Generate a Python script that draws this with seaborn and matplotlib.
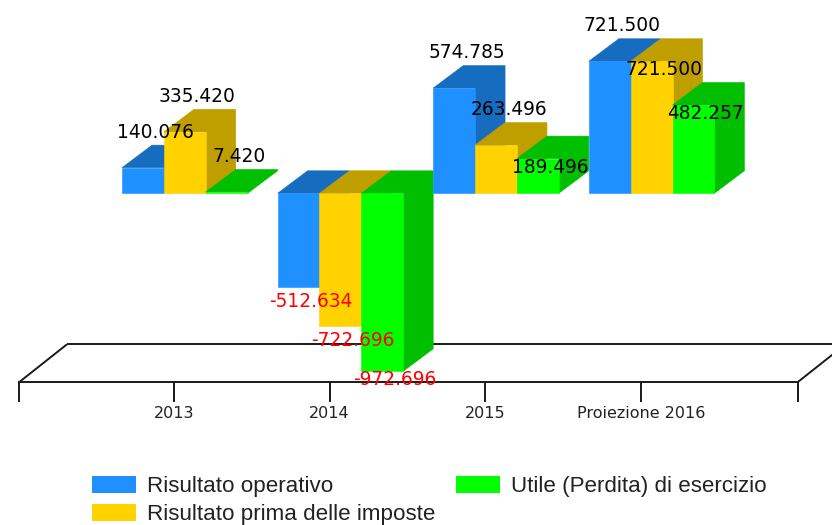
import matplotlib

matplotlib.use("Agg")
import matplotlib.pyplot as plt
import pandas as pd
import seaborn as sns
from matplotlib.colors import to_rgb
from matplotlib.patches import Polygon

years = ["2013", "2014", "2015", "Proiezione 2016"]
operativo = [140.076, -512.634, 574.785, 721.5]
ante_imposte = [335.42, -722.696, 263.496, 721.5]
utile = [7.42, -972.696, 189.496, 482.257]

series = ["Risultato operativo", "Risultato prima delle imposte", "Utile (Perdita) di esercizio"]
colors = ["#1e90ff", "#ffd200", "#00ff00"]
# labels the original prints inside the bar instead of above it
lowered = {(2, 2), (3, 1), (3, 2)}

DPI = 100
W, H = 832, 525
PX_PER_CAT = 155.6
PX_PER_VAL = 0.183
ZERO_X = 184.8
ZERO_Y = 193.3


def main():
    sns.set_theme(style="white")
    df = pd.DataFrame({"anno": years, series[0]: operativo, series[1]: ante_imposte, series[2]: utile})
    df = df.melt(id_vars="anno", var_name="voce", value_name="valore")

    fig = plt.figure(figsize=(W / DPI, H / DPI), dpi=DPI)
    ax = fig.add_axes([0, 0, 1, 1])
    sns.barplot(
        df,
        x="anno",
        y="valore",
        hue="voce",
        order=years,
        hue_order=series,
        palette=dict(zip(series, colors)),
        saturation=1,
        width=0.807,
        linewidth=0,
        errorbar=None,
        ax=ax,
    )
    ax.set_xlim(-ZERO_X / PX_PER_CAT, (W - ZERO_X) / PX_PER_CAT)
    ax.set_ylim((ZERO_Y - H) / PX_PER_VAL, ZERO_Y / PX_PER_VAL)
    ax.set(xlabel=None, ylabel=None)

    # fake 3d: side and top face as one outline, painted left to right
    dx = 30 / PX_PER_CAT
    dy = 22.5 / PX_PER_VAL
    # seaborn leaves empty zero-size patches around, skip those
    bars = sorted((p for p in ax.patches if p.get_width() > 0), key=lambda p: p.get_x())
    for z, bar in enumerate(bars):
        x0, x1 = bar.get_x(), bar.get_x() + bar.get_width()
        y0 = min(bar.get_y(), bar.get_y() + bar.get_height())
        y1 = max(bar.get_y(), bar.get_y() + bar.get_height())
        color = bar.get_facecolor()
        dark = [c * 0.75 for c in to_rgb(color)]
        outline = [(x0, y1), (x0 + dx, y1 + dy), (x1 + dx, y1 + dy), (x1 + dx, y0 + dy), (x1, y0), (x1, y1)]
        ax.add_patch(Polygon(outline, closed=True, fc=dark, ec=dark, lw=0.4, zorder=3 + z * 0.01))
        bar.set_edgecolor(color)
        bar.set_linewidth(0.4)
        bar.set_zorder(3 + z * 0.01 + 0.001)

    # value labels
    for i, group in enumerate(zip(operativo, ante_imposte, utile)):
        for j, val in enumerate(group):
            bar_x = i - 0.807 / 2 + 0.807 / 3 * (j + 0.5)
            if val < 0:
                off, col = -20, "#ff0000"
                if val < -900:
                    off = -14
            elif (i, j) in lowered:
                off, col = -14, "black"
            else:
                off, col = 30, "black"
            ax.annotate(
                f"{val:.3f}",
                (bar_x, val),
                xytext=(12.5, off),
                textcoords="offset pixels",
                ha="center",
                va="baseline",
                fontsize=13.4,
                color=col,
                zorder=10,
            )

    # floor of the 3d box, bottom spine is its front edge
    floor = (ZERO_Y - 382.3) / PX_PER_VAL
    left = (19 - ZERO_X) / PX_PER_CAT
    right = (797.5 - ZERO_X) / PX_PER_CAT
    fdx = 48 / PX_PER_CAT
    fdy = 38 / PX_PER_VAL
    line = {"color": "#1a1a1a", "lw": 1.4, "zorder": 1, "solid_capstyle": "butt"}
    ax.plot([left, left + fdx], [floor, floor + fdy], **line)
    ax.plot([right, right + fdx], [floor, floor + fdy], **line)
    ax.plot([left + fdx, right + fdx], [floor + fdy, floor + fdy], **line)

    for name in ("top", "left", "right"):
        ax.spines[name].set_visible(False)
    ax.spines["bottom"].set_position(("data", floor))
    ax.spines["bottom"].set_bounds(left, right)
    ax.spines["bottom"].set_color("#1a1a1a")
    ax.spines["bottom"].set_linewidth(1.4)
    ax.spines["bottom"].set_zorder(1)
    ax.set_xticks([left] + [i - 0.07 for i in range(4)] + [right], ["", *years, ""])
    ax.tick_params(axis="x", bottom=True, length=14.4, width=1.4, color="#1a1a1a", pad=2.5, labelsize=11.5, labelcolor="#222222")
    ax.set_yticks([])

    handles, labels = ax.get_legend_handles_labels()
    ax.legend(
        handles,
        labels,
        ncols=2,
        loc="upper left",
        bbox_to_anchor=(92 / W, 1 - 476 / H),
        frameon=False,
        borderpad=0,
        borderaxespad=0,
        handlelength=1.96,
        handleheight=0.8,
        handletextpad=0.48,
        columnspacing=0.96,
        labelspacing=0.3,
        prop={"family": "Liberation Sans", "size": 16.1},
        labelcolor="#222222",
    )

    fig.savefig("out.png", dpi=DPI)


if __name__ == "__main__":
    main()
